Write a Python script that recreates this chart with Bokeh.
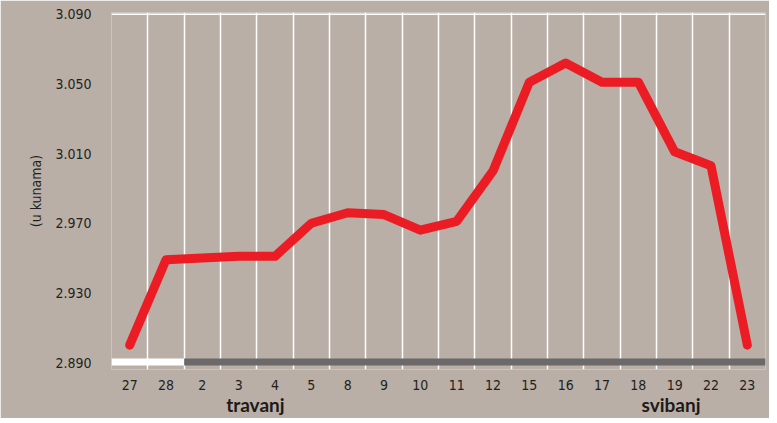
from bokeh.plotting import figure
from bokeh.models import FixedTicker, Span, Range1d, LinearAxis
from bokeh.embed import file_html
from bokeh.resources import INLINE

days = ["27", "28", "2", "3", "4", "5", "8", "9", "10", "11", "12",
        "15", "16", "17", "18", "19", "22", "23"]
values = [2900, 2949, 2950, 2951, 2951, 2970, 2976, 2975, 2966, 2971, 3000,
          3051, 3062, 3051, 3051, 3011, 3003, 2900]
y_ticks = [2890, 2930, 2970, 3010, 3050, 3090]
y_tick_labels = ["2.890", "2.930", "2.970", "3.010", "3.050", "3.090"]
months = ["travanj", "svibanj"]
month_start = [0, 2]
month_end = [2, 18]
month_label_x = [3.96, 15.4]

BG = "#b9afa6"
TXT = "#231f1d"
NARROW = "DejaVu Sans Condensed"

xs = [i + 0.5 for i in range(len(days))]

p = figure(frame_width=654, frame_height=357,
           x_range=Range1d(0, len(days)), y_range=Range1d(2886, 3091),
           output_backend="svg", toolbar_location=None,
           min_border_left=111, min_border_right=4, min_border_top=12, min_border_bottom=46,
           background_fill_color=BG, border_fill_color=BG, outline_line_color=None)

# grid: vertical white lines at column boundaries
p.ygrid.grid_line_color = None
p.xgrid.ticker = FixedTicker(ticks=list(range(len(days) + 1)))
p.xgrid.grid_line_color = "white"
p.xgrid.grid_line_width = 1.5

p.add_layout(Span(location=3090, dimension="width", line_color="white", line_width=1.5))

# month bars along the bottom
p.quad(left=month_start, right=month_end, bottom=2888.3, top=2892.3,
       fill_color=["white", "#6b6969"], line_color=None)

p.line(xs, values, line_color="#ec1c24", line_width=9,
       line_join="round", line_cap="round")

# x axis (days)
p.xaxis.ticker = FixedTicker(ticks=xs)
p.xaxis.major_label_overrides = {x: d for x, d in zip(xs, days)}
p.xaxis.axis_line_color = None
p.xaxis.major_tick_line_color = None
p.xaxis.minor_tick_line_color = None
p.xaxis.major_label_standoff = 4
p.xaxis.major_label_text_font = NARROW
p.xaxis.major_label_text_font_size = "14px"
p.xaxis.major_label_text_color = TXT

# second x axis (months)
max_ = LinearAxis(ticker=FixedTicker(ticks=month_label_x),
                  major_label_overrides={x: m for x, m in zip(month_label_x, months)})
max_.axis_line_color = None
max_.major_tick_line_color = None
max_.minor_tick_line_color = None
max_.major_label_standoff = -6
max_.major_label_text_font = "Lato"
max_.major_label_text_font_style = "bold"
max_.major_label_text_font_size = "19px"
max_.major_label_text_color = "#1e1a18"
p.add_layout(max_, "below")

# y axis
p.yaxis.ticker = FixedTicker(ticks=y_ticks)
p.yaxis.major_label_overrides = {t: l for t, l in zip(y_ticks, y_tick_labels)}
p.yaxis.axis_line_color = None
p.yaxis.major_tick_line_color = None
p.yaxis.minor_tick_line_color = None
p.yaxis.major_label_standoff = 14
p.yaxis.major_label_text_font = NARROW
p.yaxis.major_label_text_font_size = "14px"
p.yaxis.major_label_text_color = TXT
p.yaxis.axis_label = "(u kunama)"
p.yaxis.axis_label_text_font = NARROW
p.yaxis.axis_label_text_font_size = "14px"
p.yaxis.axis_label_text_font_style = "normal"
p.yaxis.axis_label_text_color = TXT
p.yaxis.axis_label_standoff = 8

open("out.html", "w").write(file_html(p, INLINE))
